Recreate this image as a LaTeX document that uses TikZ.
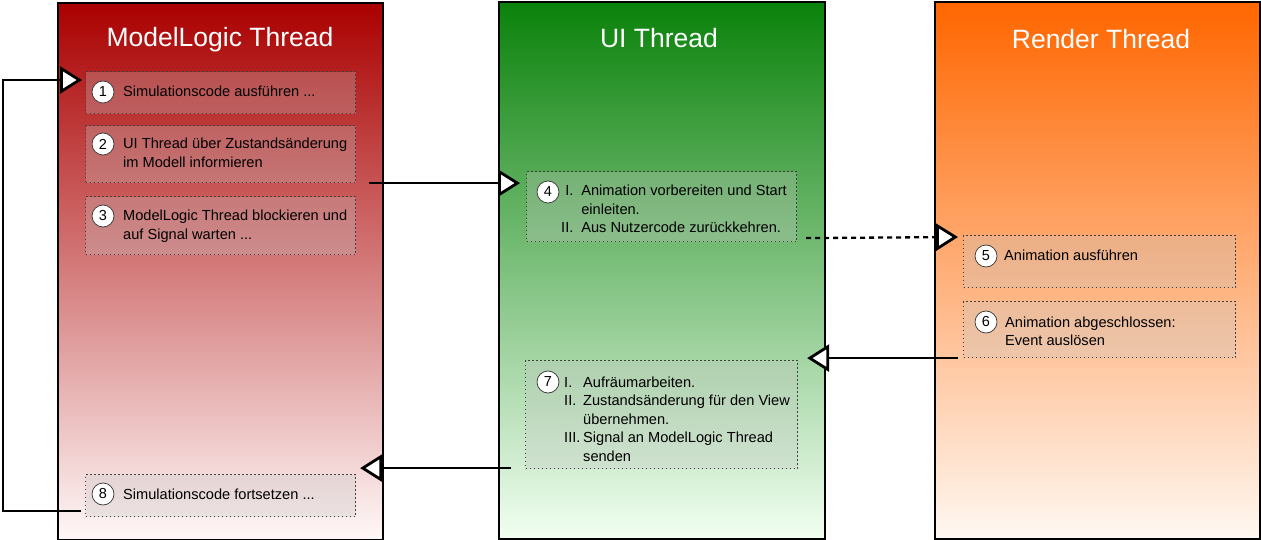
\documentclass[tikz,border=0pt]{standalone}
\usepackage{fontspec}
\setmainfont{Liberation Sans}
\usetikzlibrary{arrows.meta}

% lane gradients (top -> bottom)
\definecolor{mlTop}{RGB}{170,0,0}
\definecolor{mlBot}{RGB}{255,248,248}
\definecolor{uiTop}{RGB}{10,130,10}
\definecolor{uiBot}{RGB}{242,255,242}
\definecolor{rtTop}{RGB}{255,102,0}
\definecolor{rtBot}{RGB}{255,248,242}

\tikzset{
  lane/.style={draw=black, line width=1.7pt, anchor=north west, inner sep=0,
               minimum width=325pt, minimum height=536pt},
  lanetitle/.style={text=white, anchor=base, inner sep=0,
                    font=\fontsize{26.5}{30}\selectfont},
  stepbox/.style={draw=black!75, line width=1.1pt, dash pattern=on 1.1pt off 2.9pt,
                  fill=gray!45, fill opacity=0.3, inner sep=0, anchor=north west,
                  minimum width=270pt},
  num/.style={circle, draw=black!80, line width=0.7pt, fill=white,
              minimum size=22pt, inner sep=0, font=\fontsize{14.5}{16}\selectfont},
  txt/.style={anchor=base west, inner sep=0, font=\fontsize{14.6}{18.5}\selectfont},
  flow/.style={line width=2.3pt,
               -{Triangle[length=22pt, width=27pt, fill=white, line width=2.8pt]}}
}

\begin{document}
\begin{tikzpicture}[x=1pt, y=-1pt]
  \useasboundingbox (0,0) rectangle (1261,540);

  % thread lanes
  \node[lane, top color=mlTop, bottom color=mlBot] (ml) at (57,2.5) {};
  \node[lane, top color=uiTop, bottom color=uiBot, minimum width=326pt, minimum height=537pt] (ui) at (498,1) {};
  \node[lane, top color=rtTop, bottom color=rtBot, minimum height=537pt] (rt) at (934,1) {};

  \node[lanetitle] (mlT) at (220,47) {ModelLogic Thread};
  \node[lanetitle] (uiT) at (659,48) {UI Thread};
  \node[lanetitle] (rtT) at (1101,49) {Render Thread};

  % step boxes
  \node[stepbox, minimum height=42pt]  (b1) at (85,71)  {};
  \node[stepbox, minimum height=57pt]  (b2) at (85,125) {};
  \node[stepbox, minimum height=58pt]  (b3) at (85,196) {};
  \node[stepbox, minimum height=70pt]  (b4) at (526,171) {};
  \node[stepbox, minimum height=52pt, minimum width=272pt] (b5) at (963,235) {};
  \node[stepbox, minimum height=56pt, minimum width=272pt] (b6) at (963,301) {};
  \node[stepbox, minimum height=108pt, minimum width=272pt] (b7) at (525,360) {};
  \node[stepbox, minimum height=42pt]  (b8) at (85,474) {};

  % step numbers
  \node[num] (n1) at (103,92)  {1};
  \node[num] (n2) at (103,144) {2};
  \node[num] (n3) at (103,216) {3};
  \node[num] (n4) at (548,192) {4};
  \node[num] (n5) at (986,256) {5};
  \node[num] (n6) at (986,322) {6};
  \node[num] (n7) at (548,382) {7};
  \node[num] (n8) at (103,494) {8};

  % step texts
  \node[txt] (t1) at (123,97) {Simulationscode ausführen ...};
  \node[txt] (t2) at (123,149) {\begin{tabular}[t]{@{}l@{}}UI Thread über Zustandsänderung\\im Modell informieren\end{tabular}};
  \node[txt] (t3) at (123,221) {\begin{tabular}[t]{@{}l@{}}ModelLogic Thread blockieren und\\auf Signal warten ...\end{tabular}};
  \node[txt] (t4) at (561,196) {\begin{tabular}[t]{@{}r@{\hspace{8pt}}l@{}}I. & Animation vorbereiten und Start\\ & einleiten.\\II. & Aus Nutzercode zurückkehren.\end{tabular}};
  \node[txt] (t5) at (1004,261) {Animation ausführen};
  \node[txt] (t6) at (1005,327) {\begin{tabular}[t]{@{}l@{}}Animation abgeschlossen:\\Event auslösen\end{tabular}};
  \node[txt] (t7) at (564,387) {\begin{tabular}[t]{@{}p{19pt}@{}l@{}}I. & Aufräumarbeiten.\\II. & Zustandsänderung für den View\\ & übernehmen.\\III. & Signal an ModelLogic Thread\\ & senden\end{tabular}};
  \node[txt] (t8) at (123,499) {Simulationscode fortsetzen ...};

  % connectors
  \coordinate (loopcorner) at (3,80);
  \draw[flow] ([shift={(-4,-6)}]b8.south west) -| (loopcorner) -- ([shift={(-3,9)}]b1.north west);
  \draw[flow] ([xshift=13pt]b2.south east) -- ([xshift=-6pt]b2.south east -| b4.west);
  \draw[flow, dash pattern=on 5pt off 4pt] ([shift={(9,-4)}]b4.south east) -- ([shift={(-5,2)}]b5.north west);
  \draw[flow] ([xshift=-5pt]b6.south west) -- ([xshift=9pt]b6.south west -| b7.east);
  \draw[flow] ([shift={(-14,-1)}]b7.south west) -- ([shift={(4,-1)}]b7.south west -| b8.east);
\end{tikzpicture}
\end{document}
